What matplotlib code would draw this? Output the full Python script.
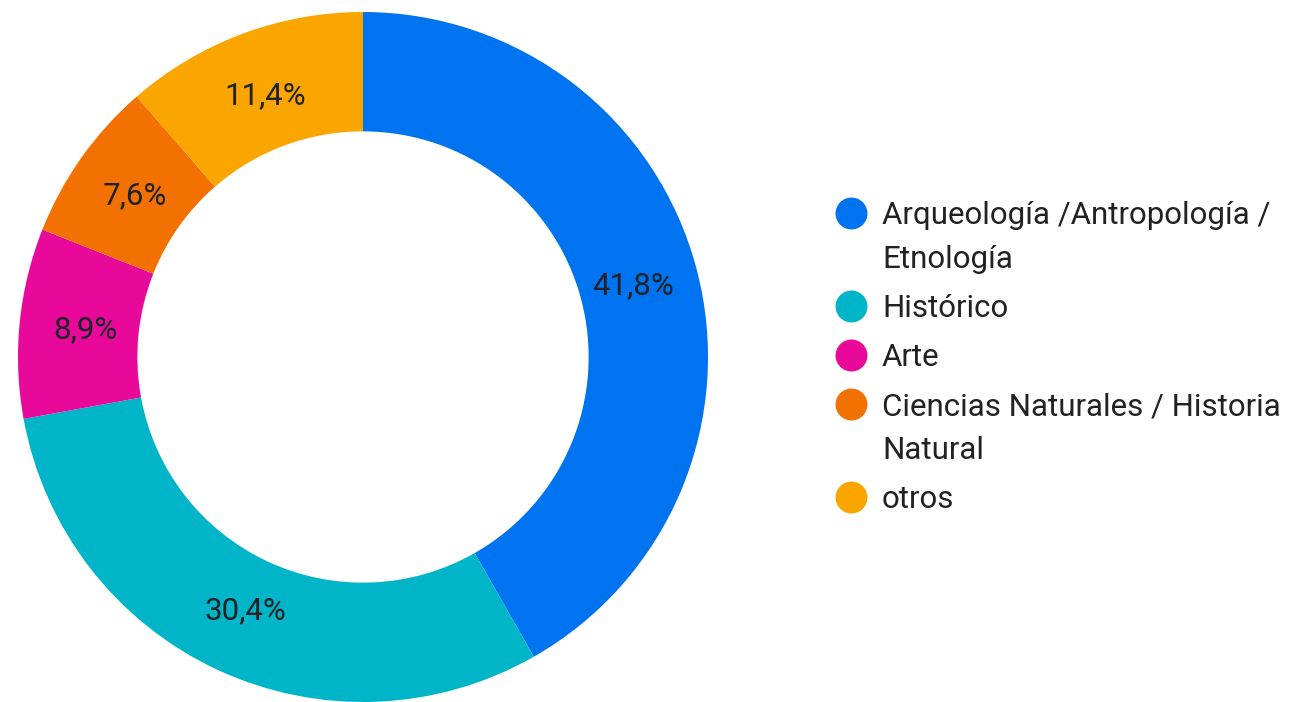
import matplotlib
matplotlib.use("Agg")
import matplotlib.pyplot as plt
from matplotlib.lines import Line2D

categories = [
    "Arqueología /Antropología /\nEtnología",
    "Histórico",
    "Arte",
    "Ciencias Naturales / Historia\nNatural",
    "otros",
]
shares = [41.8, 30.4, 8.9, 7.6, 11.4]
colors = ["#0073f0", "#00b5c8", "#e8089a", "#f27100", "#fba600"]

plt.rcParams["font.family"] = ["Roboto", "DejaVu Sans"]

W, H = 1290, 702
fig = plt.figure(figsize=(W / 100, H / 100), dpi=100)

# donut axes: centre (363, 357) px from top-left, radius 345 px
r_px = 345
cx, cy = 363, H - 357
ax = fig.add_axes([(cx - r_px) / W, (cy - r_px) / H, 2 * r_px / W, 2 * r_px / H])

wedges, texts, autotexts = ax.pie(
    shares,
    colors=colors,
    startangle=90,
    counterclock=False,
    radius=1.0,
    wedgeprops=dict(width=0.346, edgecolor="none"),
    autopct=lambda p: f"{p:.1f}%".replace(".", ","),
    pctdistance=0.81,
    textprops=dict(fontsize=22.5, color="#1f2226"),
)
ax.set_xlim(-1, 1)
ax.set_ylim(-1, 1)
ax.set_aspect("equal")
ax.axis("off")

# legend on the right, laid out by hand so the dot sits on the first line
line_gap = 44   # px between wrapped lines
item_gap = 49   # px from an item's last line to the next item
y = 213
for label, c in zip(categories, colors):
    fig.add_artist(Line2D([851 / W], [1 - y / H], transform=fig.transFigure,
                          marker="o", markersize=23, linestyle="none",
                          markerfacecolor=c, markeredgecolor="none"))
    for i, part in enumerate(label.split("\n")):
        yy = y + i * line_gap
        fig.text(882 / W, 1 - (yy + 11) / H, part, fontsize=22.5,
                 color="#222222", ha="left", va="baseline")
    y += label.count("\n") * line_gap + item_gap

fig.savefig("out.png", dpi=100, facecolor="white")
